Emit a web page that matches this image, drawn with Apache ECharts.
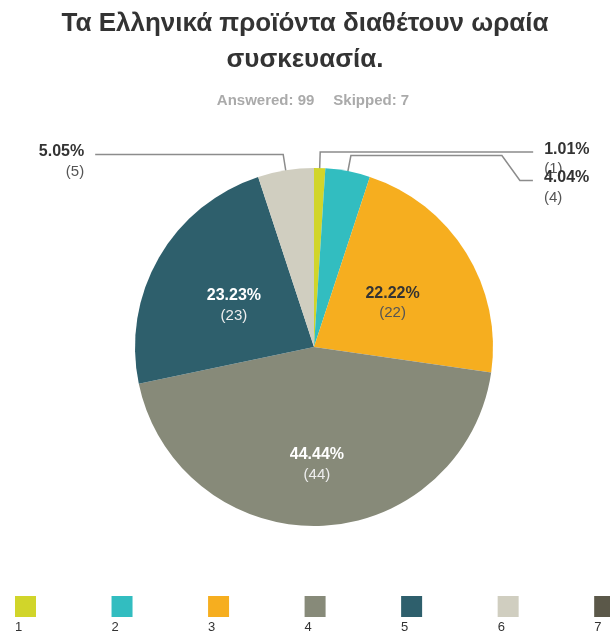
<!DOCTYPE html>
<html>
<head>
<meta charset="utf-8">
<script src="https://cdn.jsdelivr.net/npm/echarts@6/dist/echarts.min.js"></script>
<style>
  html, body { margin: 0; padding: 0; background: #ffffff; }
  #chart { width: 610px; height: 635px; }
</style>
</head>
<body>
<div id="chart"></div>
<script>
// Survey question and response summary
const questionText = 'Τα Ελληνικά προϊόντα διαθέτουν ωραία\nσυσκευασία.';
const answeredCount = 99;
const skippedCount = 7;

// Answer choices (rating 1-7) and number of respondents per choice
const categories = ['1', '2', '3', '4', '5', '6', '7'];
const counts = [1, 4, 22, 44, 23, 5, 0];

// Styling per choice
const sliceColors = ['#D1D52A', '#32BDC0', '#F6AE1F', '#878A79', '#2E5F6C', '#D0CEC0', '#5B5849'];
const whiteLabel = [false, false, false, true, true, false, false];
const guideLength2 = [213, 182, 0, 0, 0, 188, 0];
const guideDrop = [0, 25, 0, 0, 0, 0, 0];

const FONT = '"Liberation Sans", Arial, Helvetica, sans-serif';
const total = counts.reduce((a, b) => a + b, 0);

function pct(v) {
  return (v / total * 100).toFixed(2) + '%';
}

const pieData = categories.map((name, i) => {
  const v = counts[i];
  const inside = v >= 10;
  return {
    name: name,
    value: v,
    itemStyle: { color: sliceColors[i] },
    label: {
      show: v > 0,
      position: inside ? 'inside' : 'outside'
    },
    labelLine: {
      show: v > 0 && !inside,
      length: 16,
      length2: guideLength2[i]
    }
  };
});

const chart = echarts.init(document.getElementById('chart'), null, { renderer: 'canvas' });

chart.setOption({
  animation: false,
  backgroundColor: '#ffffff',
  title: [
    {
      text: questionText,
      left: 'center',
      top: 6,
      padding: 0,
      textStyle: {
        fontFamily: FONT,
        fontSize: 26,
        fontWeight: 'bold',
        color: '#333333',
        lineHeight: 36
      }
    },
    {
      text: '{a|Answered: ' + answeredCount + '}{b|Skipped: ' + skippedCount + '}',
      left: 313,
      textAlign: 'center',
      top: 92,
      padding: 0,
      textStyle: {
        fontFamily: FONT,
        fontSize: 15,
        fontWeight: 'bold',
        color: '#AAAAAA',
        lineHeight: 17,
        rich: {
          a: { fontFamily: FONT, fontSize: 15, fontWeight: 'bold', color: '#AAAAAA' },
          b: { fontFamily: FONT, fontSize: 15, fontWeight: 'bold', color: '#AAAAAA', padding: [0, 0, 0, 19] }
        }
      }
    }
  ],
  legend: [
    {
      // colour swatches
      data: categories,
      left: 15,
      top: 596,
      width: 800,
      padding: 0,
      orient: 'horizontal',
      icon: 'rect',
      itemWidth: 21,
      itemHeight: 21,
      itemGap: 63.3,
      selectedMode: false,
      textStyle: { fontFamily: FONT, fontSize: 13, color: 'rgba(0,0,0,0)' }
    },
    {
      // choice numbers beneath the swatches
      data: categories,
      left: 9,
      top: 620,
      width: 800,
      padding: 0,
      orient: 'horizontal',
      icon: 'none',
      itemWidth: 1,
      itemHeight: 14,
      itemGap: 83.3,
      selectedMode: false,
      textStyle: { fontFamily: FONT, fontSize: 13, color: '#333333' }
    }
  ],
  series: [{
    type: 'pie',
    center: [314, 347],
    radius: 179,
    startAngle: 90,
    clockwise: true,
    avoidLabelOverlap: false,
    emphasis: { disabled: true },
    itemStyle: { borderWidth: 0 },
    label: {
      fontFamily: FONT,
      distanceToLabelLine: 11,
      formatter: function (p) {
        const light = whiteLabel[p.dataIndex];
        return (light ? '{pl|' : '{p|') + pct(p.value) + '}\n' + (light ? '{cl|' : '{c|') + '(' + p.value + ')}';
      },
      rich: {
        p: { fontFamily: FONT, fontSize: 16, fontWeight: 'bold', color: '#333333', lineHeight: 20 },
        c: { fontFamily: FONT, fontSize: 15, color: '#555555', lineHeight: 20 },
        pl: { fontFamily: FONT, fontSize: 16, fontWeight: 'bold', color: '#FFFFFF', lineHeight: 20 },
        cl: { fontFamily: FONT, fontSize: 15, color: '#EEEEEE', lineHeight: 20 }
      }
    },
    labelLine: {
      lineStyle: { color: '#8C8C8C', width: 1.5 }
    },
    labelLayout: function (params) {
      const i = params.dataIndex;
      if (counts[i] >= 10) {
        return { dy: i === 3 ? 25 : 5 };
      }
      const pts = params.labelLinePoints;
      if (!pts || pts.length < 3) return {};
      const p0 = pts[0], p1 = pts[1], p2 = pts[2];
      const vx = p0[0] - p1[0], vy = p0[1] - p1[1];
      const len = Math.sqrt(vx * vx + vy * vy) || 1;
      // start the guide line a little inside the slice
      const start = [p0[0] + vx / len * 13, p0[1] + vy / len * 13];
      const drop = guideDrop[i];
      let line;
      if (drop) {
        line = [start, [p1[0], p1[1]], [p2[0] - 31, p1[1]], [p2[0] - 13, p1[1] + drop], [p2[0], p1[1] + drop]];
      } else {
        line = [start, [p1[0], p1[1]], [p2[0], p2[1]]];
      }
      return { dy: drop + 7, labelLinePoints: line };
    },
    data: pieData
  }]
});
</script>
</body>
</html>
